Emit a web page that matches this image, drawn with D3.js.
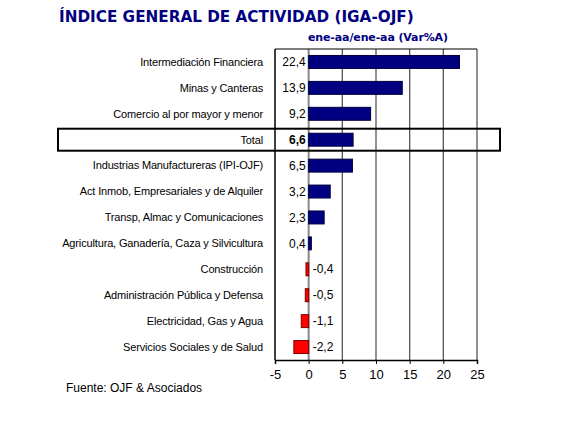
<!DOCTYPE html>
<html lang="es">
<head>
<meta charset="UTF-8">
<title>Índice General de Actividad</title>
<style>
  body { margin: 0; background: #fff; }
  svg text { font-family: "Liberation Sans", Arial, sans-serif; }
</style>
</head>
<body>
<svg id="chart" width="570" height="421"></svg>
<script src="https://d3js.org/d3.v7.min.js"></script>
<script>
// data
const sectors = [
  "Intermediación Financiera",
  "Minas y Canteras",
  "Comercio al por mayor y menor",
  "Total",
  "Industrias Manufactureras (IPI-OJF)",
  "Act Inmob, Empresariales y de Alquiler",
  "Transp, Almac y Comunicaciones",
  "Agricultura, Ganadería, Caza y Silvicultura",
  "Construcción",
  "Administración Pública y Defensa",
  "Electricidad, Gas y Agua",
  "Servicios Sociales y de Salud"
];
const variation = [22.4, 13.9, 9.2, 6.6, 6.5, 3.2, 2.3, 0.4, -0.4, -0.5, -1.1, -2.2];
const xTicks = [-5, 0, 5, 10, 15, 20, 25];

const svg = d3.select("#chart");
const navy = "#000080";

const x = d3.scaleLinear().domain([-5, 25]).range([275, 477]);
const y = d3.scaleBand().domain(sectors).range([49, 360]).paddingInner(0.5).paddingOuter(0.25);

// comma decimals and a plain hyphen for negatives, like the original
const fmt = v => d3.format(".1f")(v).replace(".", ",").replace("\u2212", "-");

// title
const title = svg.append("text")
    .attr("x", 59).attr("y", 22)
    .style("font-family", "'DejaVu Sans', Verdana, sans-serif")
    .style("font-weight", "bold")
    .style("font-size", "15px")
    .attr("fill", navy)
    .text("ÍNDICE GENERAL DE ACTIVIDAD (IGA-OJF)");
// squeeze to the width it has in the picture
let tw = title.node().getComputedTextLength();
title.style("font-size", (15 * 355 / tw) + "px");

svg.append("text")
    .attr("x", 308).attr("y", 41)
    .style("font-family", "'DejaVu Sans', Verdana, sans-serif")
    .style("font-weight", "bold")
    .style("font-size", "11px")
    .attr("fill", navy)
    .attr("textLength", 140)
    .text("ene-aa/ene-aa  (Var%A)");

// grid lines
svg.append("g")
  .selectAll("line")
  .data(xTicks.slice(1))
  .join("line")
    .attr("x1", d => x(d)).attr("x2", d => x(d))
    .attr("y1", 49).attr("y2", 360)
    .attr("stroke", d => d === 0 ? "#888" : "#555")
    .attr("stroke-width", d => d === 0 ? 2 : 1.3);

// top border
svg.append("line")
    .attr("x1", x(-5)).attr("x2", x(25))
    .attr("y1", 49).attr("y2", 49)
    .attr("stroke", "#000").attr("stroke-width", 1.2);

// left border
svg.append("line")
    .attr("x1", x(-5)).attr("x2", x(-5))
    .attr("y1", 49).attr("y2", 360)
    .attr("stroke", "#000").attr("stroke-width", 1.5);

// x axis
const xAxis = svg.append("g")
    .attr("transform", "translate(0,360)")
    .call(d3.axisBottom(x).tickValues(xTicks).tickSize(4).tickPadding(6)
      .tickFormat(d => String(d)));
xAxis.select(".domain").attr("stroke-width", 1.5);
xAxis.selectAll("text")
    .style("font-family", "'Liberation Sans', Arial, sans-serif")
    .style("font-size", "13px")
    .attr("fill", "#000");

// bars
svg.append("g")
  .selectAll("rect")
  .data(sectors)
  .join("rect")
    .attr("x", (d, i) => x(Math.min(0, variation[i])))
    .attr("y", d => y(d))
    .attr("width", (d, i) => Math.abs(x(variation[i]) - x(0)))
    .attr("height", y.bandwidth())
    .attr("fill", (d, i) => variation[i] < 0 ? "#ff0000" : navy)
    .attr("stroke", (d, i) => variation[i] < 0 ? "#7a0000" : "#000040")
    .attr("stroke-width", 1);

// category labels
svg.append("g")
  .selectAll("text")
  .data(sectors)
  .join("text")
    .attr("x", 263)
    .attr("y", d => y(d) + y.bandwidth() / 2)
    .attr("dy", "0.35em")
    .attr("text-anchor", "end")
    .style("font-size", "11px")
    .style("letter-spacing", "-0.15px")
    .attr("fill", "#000")
    .text(d => d);

// value labels
svg.append("g")
  .selectAll("text")
  .data(sectors)
  .join("text")
    .attr("x", (d, i) => variation[i] < 0 ? x(0) + 4 : x(0) - 3)
    .attr("y", d => y(d) + y.bandwidth() / 2)
    .attr("dy", "0.35em")
    .attr("text-anchor", (d, i) => variation[i] < 0 ? "start" : "end")
    .style("font-size", "12px")
    .style("font-weight", d => d === "Total" ? "bold" : "normal")
    .attr("fill", "#000")
    .text((d, i) => fmt(variation[i]));

// highlight box around Total
const ty = y("Total") + y.bandwidth() / 2;
svg.append("rect")
    .attr("x", 58).attr("y", ty - 11)
    .attr("width", 442).attr("height", 22)
    .attr("fill", "none")
    .attr("stroke", "#000")
    .attr("stroke-width", 2);

// source
svg.append("text")
    .attr("x", 66).attr("y", 392)
    .style("font-size", "12px")
    .attr("fill", "#000")
    .text("Fuente: OJF & Asociados");
</script>
</body>
</html>
